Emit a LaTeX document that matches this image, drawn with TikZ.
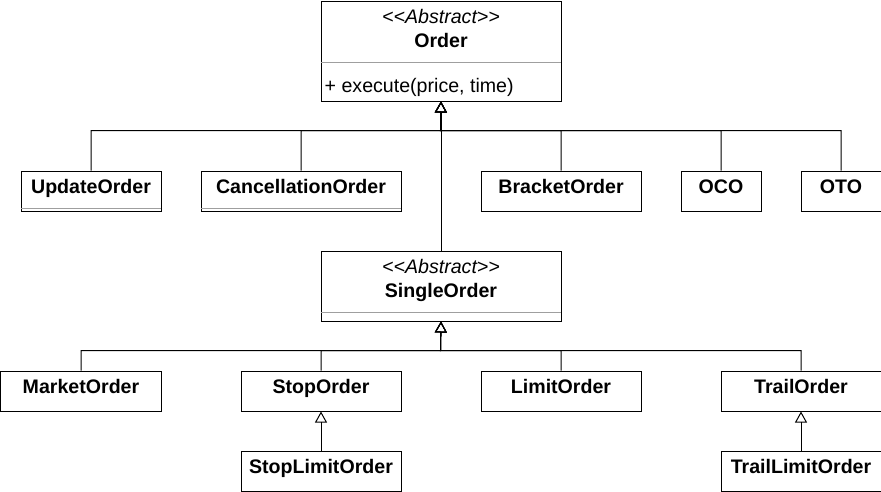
\documentclass[tikz,border=0pt]{standalone}
\usepackage{fontspec}
\setmainfont{Liberation Sans}
\usetikzlibrary{arrows.meta,calc}
\begin{document}
\begin{tikzpicture}[x=1pt,y=-1pt,
  box/.style={draw=black,line width=1pt,fill=white,inner sep=0pt,anchor=north west},
  sep/.style={draw=gray!75,line width=1pt},
  lbl/.style={inner sep=0pt,anchor=base,font=\fontsize{19.6}{22}\selectfont\bfseries},
  abs/.style={inner sep=0pt,anchor=base,font=\fontsize{19.6}{22}\selectfont\itshape},
  meth/.style={inner sep=0pt,anchor=base west,font=\fontsize{19.6}{22}\selectfont},
  inh/.style={draw=black,line width=1pt,-{Triangle[open,width=12pt,length=11pt,line width=1pt]}}
]
\useasboundingbox (-0.5,-0.5) rectangle (880.5,490.5);

% Order
\node[box,minimum width=240pt,minimum height=100pt] (order) at (320,0) {};
\draw[sep] (320,62) -- (560,62);
\node[abs] (orderst) at ($(order.north)+(0,23)$) {<\kern0pt<Abstract>\kern0pt>};
\node[lbl] (ordername) at ($(order.north)+(0,47)$) {Order};
\node[meth] (ordermeth) at (324,92) {+ execute(price, time)};

% first level children
\node[box,minimum width=140pt,minimum height=40pt] (upd) at (20,170) {};
\draw[sep] (20,208) -- (160,208);
\node[lbl] (updl) at ($(upd.north)+(0,23)$) {UpdateOrder};

\node[box,minimum width=200pt,minimum height=40pt] (canc) at (200,170) {};
\draw[sep] (200,208) -- (400,208);
\node[lbl] (cancl) at ($(canc.north)+(0,23)$) {CancellationOrder};

\node[box,minimum width=160pt,minimum height=40pt] (brk) at (480,170) {};
\node[lbl] (brkl) at ($(brk.north)+(0,23)$) {BracketOrder};

\node[box,minimum width=80pt,minimum height=40pt] (oco) at (680,170) {};
\node[lbl] (ocol) at ($(oco.north)+(0,23)$) {OCO};

\node[box,minimum width=80pt,minimum height=40pt] (oto) at (800,170) {};
\node[lbl] (otol) at ($(oto.north)+(0,23)$) {OTO};

% SingleOrder
\node[box,minimum width=240pt,minimum height=70pt] (single) at (320,250) {};
\draw[sep] (320,312) -- (560,312);
\node[abs] (singlest) at ($(single.north)+(0,23)$) {<\kern0pt<Abstract>\kern0pt>};
\node[lbl] (singlename) at ($(single.north)+(0,47)$) {SingleOrder};

% second level children
\node[box,minimum width=160pt,minimum height=40pt] (mkt) at (0,370) {};
\node[lbl] (mktl) at ($(mkt.north)+(0,23)$) {MarketOrder};

\node[box,minimum width=160pt,minimum height=40pt] (stop) at (240,370) {};
\node[lbl] (stopl) at ($(stop.north)+(0,23)$) {StopOrder};

\node[box,minimum width=160pt,minimum height=40pt] (lim) at (480,370) {};
\node[lbl] (liml) at ($(lim.north)+(0,23)$) {LimitOrder};

\node[box,minimum width=160pt,minimum height=40pt] (trail) at (720,370) {};
\node[lbl] (traill) at ($(trail.north)+(0,23)$) {TrailOrder};

\node[box,minimum width=160pt,minimum height=40pt] (stoplim) at (240,450) {};
\node[lbl] (stopliml) at ($(stoplim.north)+(0,23)$) {StopLimitOrder};

\node[box,minimum width=160pt,minimum height=40pt] (traillim) at (720,450) {};
\node[lbl] (trailliml) at ($(traillim.north)+(0,23)$) {TrailLimitOrder};

% connectors
\coordinate (bus1) at (440,130);
\coordinate (bus2) at (440,350);
\foreach \c in {upd,canc,brk,oco,oto}
  \draw[inh] (\c.north) |- (bus1) -- (order.south);
\draw[inh] (single.north) -- (order.south);
\foreach \c in {mkt,stop,lim,trail}
  \draw[inh] (\c.north) |- (bus2) -- (single.south);
\draw[inh] (stoplim.north) -- (stop.south);
\draw[inh] (traillim.north) -- (trail.south);
\end{tikzpicture}
\end{document}
